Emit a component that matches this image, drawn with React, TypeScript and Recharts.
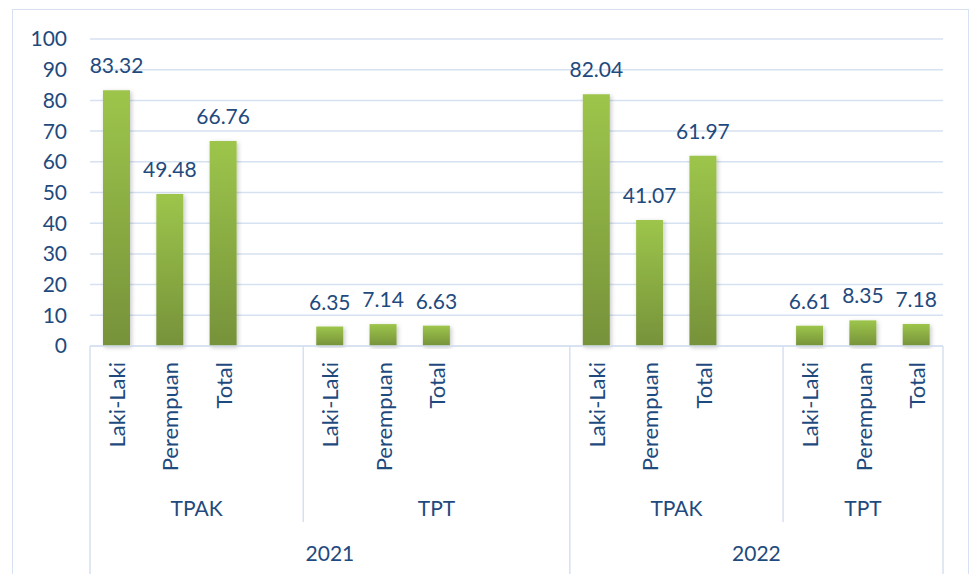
import { BarChart, Bar, XAxis, YAxis, CartesianGrid } from "recharts";

const years = ["2021", "2022"];
const indicators = ["TPAK", "TPT"];
const sexLabels = ["Laki-Laki", "Perempuan", "Total"];

const tpak2021 = [83.32, 49.48, 66.76];
const tpt2021 = [6.35, 7.14, 6.63];
const tpak2022 = [82.04, 41.07, 61.97];
const tpt2022 = [6.61, 8.35, 7.18];

// blank categories that follow each group in the source sheet
const blankSlots = [1, 2, 1, 0];
const yTicks = [0, 10, 20, 30, 40, 50, 60, 70, 80, 90, 100];

const TEXT = "#1F4A7D";
const LINE = "#D6E1F1";
const FONT = "Lato, 'Open Sans', sans-serif";

interface Row {
  key: string;
  name: string;
  value: number | null;
  group: string;
  groupStart: boolean;
  groupSize: number;
  year: string;
  yearStart: boolean;
  yearSize: number;
  last: boolean;
}

const groupDefs = [
  { year: years[0], ind: indicators[0], values: tpak2021, blanks: blankSlots[0] },
  { year: years[0], ind: indicators[1], values: tpt2021, blanks: blankSlots[1] },
  { year: years[1], ind: indicators[0], values: tpak2022, blanks: blankSlots[2] },
  { year: years[1], ind: indicators[1], values: tpt2022, blanks: blankSlots[3] },
];

const rows: Row[] = [];
groupDefs.forEach((g, gi) => {
  const size = g.values.length + g.blanks;
  const yearSize = groupDefs
    .filter((d) => d.year === g.year)
    .reduce((s, d) => s + d.values.length + d.blanks, 0);
  const yearStart = groupDefs.findIndex((d) => d.year === g.year) === gi;
  for (let i = 0; i < size; i++) {
    rows.push({
      key: `g${gi}-${i}`,
      name: i < g.values.length ? sexLabels[i] : "",
      value: i < g.values.length ? g.values[i] : null,
      group: g.ind,
      groupStart: i === 0,
      groupSize: size,
      year: g.year,
      yearStart: yearStart && i === 0,
      yearSize,
      last: false,
    });
  }
});
rows[rows.length - 1].last = true;

function CategoryTick(props: any) {
  const { x, y, payload, index } = props;
  const row = rows[index];
  if (!row) return null;
  const half = payload && typeof payload.offset === "number" && payload.offset > 0 ? payload.offset : 26.66;
  const slot = half * 2;
  const left = x - half;
  return (
    <g>
      {row.name && (
        <text
          transform={`translate(${x},${y + 16}) rotate(-90)`}
          textAnchor="end"
          dominantBaseline="central"
          fill={TEXT}
          fontSize={22}
          fontFamily={FONT}
        >
          {row.name}
        </text>
      )}
      {row.groupStart && (
        <>
          <line x1={left} y1={y} x2={left} y2={y + (row.yearStart ? 228 : 176)} stroke={LINE} strokeWidth={1.5} />
          <text
            x={left + (row.groupSize * slot) / 2}
            y={y + 161}
            textAnchor="middle"
            dominantBaseline="central"
            fill={TEXT}
            fontSize={21}
            fontFamily={FONT}
          >
            {row.group}
          </text>
        </>
      )}
      {row.yearStart && (
        <text
          x={left + (row.yearSize * slot) / 2}
          y={y + 206}
          textAnchor="middle"
          dominantBaseline="central"
          fill={TEXT}
          fontSize={21}
          fontFamily={FONT}
        >
          {row.year}
        </text>
      )}
      {row.last && <line x1={x + half} y1={y} x2={x + half} y2={y + 228} stroke={LINE} strokeWidth={1.5} />}
    </g>
  );
}

function ValueLabel(props: any) {
  const { x, y, width, value } = props;
  if (value == null) return null;
  return (
    <text x={x + width / 2} y={y - 17} textAnchor="middle" fill={TEXT} fontSize={21} fontFamily={FONT}>
      {Number(value).toFixed(2)}
    </text>
  );
}

export default function App() {
  return (
    <div style={{ position: "fixed", left: 0, top: 0, width: 970, height: 574, background: "#fff", overflow: "hidden" }}>
      <div
        style={{
          position: "absolute",
          left: 12,
          top: 9,
          width: 955,
          height: 620,
          border: `1.5px solid ${LINE}`,
        }}
      />
      <BarChart
        width={970}
        height={574}
        data={rows}
        margin={{ top: 39, right: 27, left: 0, bottom: 0 }}
        style={{ position: "absolute", left: 0, top: 0 }}
      >
        <defs>
          <linearGradient id="barGreen" x1="0" y1="0" x2="0" y2="1">
            <stop offset="0%" stopColor="#9DC54B" />
            <stop offset="100%" stopColor="#76923A" />
          </linearGradient>
          <filter id="barShadow" x="-30%" y="-10%" width="160%" height="120%">
            <feDropShadow dx="1.5" dy="1.5" stdDeviation="2" floodColor="#000" floodOpacity="0.22" />
          </filter>
        </defs>
        <CartesianGrid vertical={false} stroke={LINE} strokeWidth={1.5} />
        <XAxis
          dataKey="key"
          height={228}
          interval={0}
          tickLine={false}
          tickSize={0}
          tickMargin={0}
          axisLine={{ stroke: LINE, strokeWidth: 1.5 }}
          tick={<CategoryTick />}
        />
        <YAxis
          width={90}
          domain={[0, 100]}
          ticks={yTicks}
          axisLine={false}
          tickLine={false}
          tickSize={0}
          tickMargin={23}
          tick={{ fill: TEXT, fontSize: 21, fontFamily: FONT }}
        />
        <Bar
          dataKey="value"
          barSize={27}
          fill="url(#barGreen)"
          filter="url(#barShadow)"
          isAnimationActive={false}
          label={<ValueLabel />}
        />
      </BarChart>
    </div>
  );
}
